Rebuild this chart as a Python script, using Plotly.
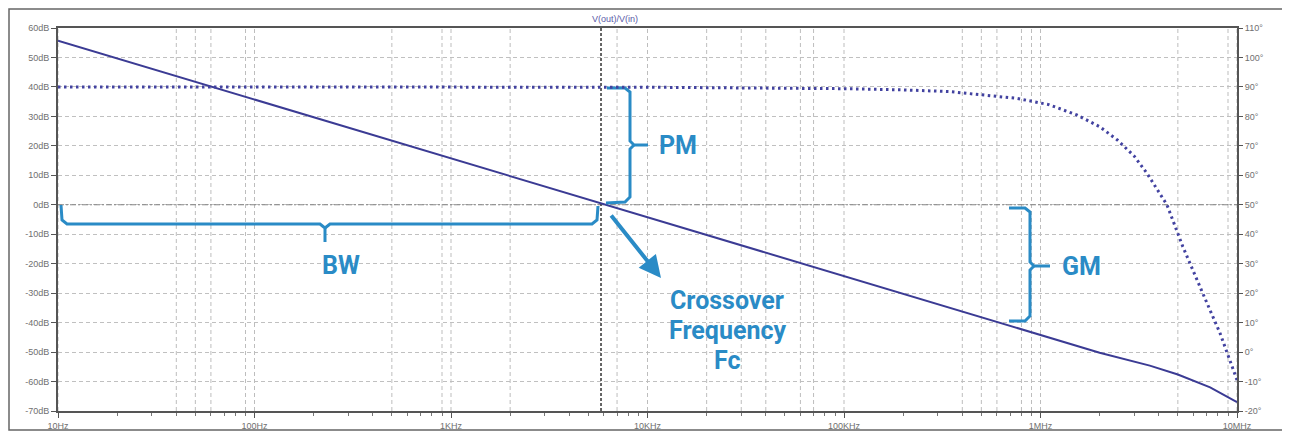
import math
import plotly.graph_objects as go

# ---------------- data ----------------
mag_freq = [10, 100, 1e3, 1e4, 1e5, 1e6, 2e6, 3.6e6, 5e6, 7.3e6, 1e7]
mag_db = [55.7, 35.7, 15.7, -4.3, -24.3, -44.2, -50.2, -54.6, -57.6, -62.0, -67.0]

ph_freq = [10, 1e3, 1e4, 1e5, 2e5, 3.47e5, 7.6e5, 1.1e6, 1.53e6, 2e6, 2.46e6, 3e6,
           3.48e6, 4.4e6, 5.3e6, 6.7e6, 8.2e6, 1e7]
ph_deg = [90, 90, 89.9, 89.4, 89.0, 88.4, 86.1, 84.0, 80.5, 76.5, 72.0, 66.5,
          60.7, 50.0, 35.8, 19.9, 6.4, -9.5]

x_tickvals = [10, 100, 1e3, 1e4, 1e5, 1e6, 1e7]
x_ticktext = ["10Hz", "100Hz", "1KHz", "10KHz", "100KHz", "1MHz", "10MHz"]
y_tickvals = list(range(-70, 61, 10))
y_ticktext = [f"{v}dB" for v in y_tickvals]
y2_tickvals = list(range(-20, 111, 10))
y2_ticktext = [f"{v}°" for v in y2_tickvals]

grid_freqs = [10, 40, 50, 60, 90, 100, 500, 900, 1e3, 2e3, 7e3, 1e4, 2e4, 3e4, 4e4,
              6e4, 7e4, 1e5, 4e5, 5e5, 6e5, 8e5, 9e5, 1e6, 5e6, 9e6, 1e7]
fc = 5.8e3

# --------------- geometry (page pixels; page body has an 8px margin) ---------
OFF = 8
L, R, T, B = 58, 1237, 28, 411
W, H = 1290 - OFF, 432 - OFF


def fx(px):
    return 10 ** (1 + (px - L) / ((R - L) / 6))


def fy(py):
    return 60 - (py - T) / ((B - T) / 130)


ACC = "#2a8bc6"
MAGC = "#3b3b94"
PHC = "#4242a0"

fig = go.Figure()

# vertical gridlines
gx, gy = [], []
for f in grid_freqs:
    gx += [f, f, None]
    gy += [-70, 60, None]
fig.add_trace(go.Scatter(x=gx, y=gy, mode="lines",
                         line=dict(color="#bdbdbd", width=1, dash="4px,3px"),
                         hoverinfo="skip", showlegend=False))

# cursor lines
fig.add_trace(go.Scatter(x=[10, 1e7], y=[0, 0], mode="lines",
                         line=dict(color="#858585", width=1.2, dash="6px,2px,2px,2px"),
                         hoverinfo="skip", showlegend=False))
fig.add_trace(go.Scatter(x=[fc, fc], y=[-70, 60], mode="lines",
                         line=dict(color="#333333", width=1.5, dash="3px,2px"),
                         hoverinfo="skip", showlegend=False))

# phase (dotted) on right axis
fig.add_trace(go.Scatter(x=ph_freq, y=ph_deg, mode="lines", yaxis="y2",
                         line=dict(color=PHC, width=3, dash="2.5px,3.5px"),
                         showlegend=False, name="phase"))
# magnitude
fig.add_trace(go.Scatter(x=mag_freq, y=mag_db, mode="lines",
                         line=dict(color=MAGC, width=2),
                         showlegend=False, name="gain"))


def bracket(pts):
    xs, ys = [], []
    for p in pts:
        if p is None:
            xs.append(None)
            ys.append(None)
        else:
            xs.append(fx(p[0]))
            ys.append(fy(p[1]))
    fig.add_trace(go.Scatter(x=xs, y=ys, mode="lines",
                             line=dict(color=ACC, width=3),
                             hoverinfo="skip", showlegend=False))


# BW bracket
bracket([(61, 205), (62, 220), (67, 224), (320, 224), (325, 228), (325, 242), None,
         (325, 228), (330, 224), (592, 224), (597, 220), (598, 206)])
# PM bracket
bracket([(607, 88), (625, 88), (630, 92), (630, 141), (634, 145), (648, 145), None,
         (634, 145), (630, 149), (630, 197), (625, 202), (606, 203)])
# GM bracket
bracket([(1009, 208), (1025, 208), (1030, 212), (1030, 262), (1034, 266), (1050, 266), None,
         (1034, 266), (1030, 270), (1030, 316), (1025, 321), (1009, 321)])

txtfont = dict(family="Roboto", size=25, color=ACC)
anns = [
    dict(x=math.log10(fx(341)), y=fy(265), text="<b>BW</b>"),
    dict(x=math.log10(fx(678)), y=fy(145), text="<b>PM</b>"),
    dict(x=math.log10(fx(1081)), y=fy(266), text="<b>GM</b>"),
    dict(x=math.log10(fx(727)), y=fy(300), text="<b>Crossover</b>"),
    dict(x=math.log10(fx(727)), y=fy(330), text="<b>Frequency</b>"),
    dict(x=math.log10(fx(727)), y=fy(360), text="<b>Fc</b>"),
]
annotations = []
for a in anns:
    annotations.append(dict(x=a["x"], y=a["y"], xref="x", yref="y", text=a["text"],
                            showarrow=False, font=txtfont,
                            xanchor="center", yanchor="middle"))
# arrow
annotations.append(dict(x=math.log10(fx(661)), y=fy(278), xref="x", yref="y",
                        ax=-51, ay=-64, showarrow=True, arrowhead=2, arrowsize=1.1,
                        arrowwidth=4, arrowcolor=ACC, text="", standoff=0))
# title
annotations.append(dict(x=(615 - L) / (R - L), y=(B - 19) / (B - T), xref="paper",
                        yref="paper", text="V(out)/V(in)", showarrow=False,
                        font=dict(family="Liberation Sans", size=9, color="#5a5aa8"),
                        xanchor="center", yanchor="middle"))

tickfont = dict(family="Liberation Sans", size=9, color="#707070")
fig.update_layout(
    width=W, height=H,
    margin=dict(l=L - OFF, r=W - (R - OFF), t=T - OFF, b=H - (B - OFF), autoexpand=False),
    paper_bgcolor="white", plot_bgcolor="white",
    xaxis=dict(type="log", range=[1, 7], tickmode="array", tickvals=x_tickvals,
               ticktext=x_ticktext, automargin=False,
               showgrid=False, zeroline=False, showline=True, linecolor="#555555",
               linewidth=2, mirror=True, ticks="outside", ticklen=5, tickcolor="#555555",
               tickfont=tickfont,
               minor=dict(dtick="D1", ticks="outside", ticklen=3, tickcolor="#777777",
                          showgrid=False)),
    yaxis=dict(range=[-70, 60], tickmode="array", tickvals=y_tickvals,
               ticktext=y_ticktext, automargin=False,
               showgrid=True, gridcolor="#c0c0c0", griddash="4px,3px", gridwidth=1,
               zeroline=False, showline=True, linecolor="#555555", linewidth=2,
               mirror=True, ticks="outside", ticklen=5, tickcolor="#555555",
               tickfont=tickfont),
    yaxis2=dict(range=[-20, 110], tickmode="array", tickvals=y2_tickvals,
                ticktext=y2_ticktext, automargin=False,
                overlaying="y", side="right", showgrid=False, zeroline=False,
                showline=False, ticks="outside", ticklen=5, tickcolor="#555555",
                tickfont=tickfont),
    annotations=annotations,
    shapes=[dict(type="rect", xref="paper", yref="paper",
                 x0=(9 - L) / (R - L), x1=(1285 - L) / (R - L),
                 y0=(B - 430) / (B - T), y1=(B - 9) / (B - T),
                 line=dict(color="#666666", width=1.5), fillcolor="rgba(0,0,0,0)",
                 layer="below")],
)

fig.write_html("out.html")
